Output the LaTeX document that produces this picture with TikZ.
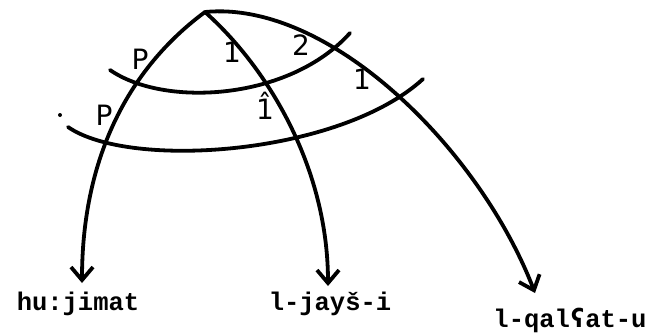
\documentclass[tikz,border=0pt]{standalone}
\usepackage{fontspec}
\setmonofont{Liberation Mono}
\newfontfamily\ipafont{DejaVu Sans Mono}
\newfontfamily\handfont{DejaVu Sans}
\usetikzlibrary{arrows.meta}
\tikzset{
  every picture/.style={line width=3.8pt, line cap=round},
  arrow/.style={-{Straight Barb[length=13pt, width=22pt]}},
  word/.style={font=\ttfamily\bfseries\fontsize{25.5}{30}\selectfont, inner sep=0pt, anchor=base},
  rel/.style={font=\handfont\fontsize{28}{32}\selectfont, inner sep=0pt},
}
\begin{document}
\begin{tikzpicture}[x=1pt, y=-1pt]
  \useasboundingbox (0,0) rectangle (658,335);
  % ---------- words ----------
  \node[word] (hu) at (78,310) {hu:jimat};
  \node[word] (jays) at (330,310) {l-jayš-i};
  \node[word] (qal) at (570,327) {l-qal{\ipafont\bfseries ʕ}at-u};
  % ---------- arcs ----------
  \coordinate (apex) at (205,12);
  \coordinate (tipP) at (82,283);
  \coordinate (tipS) at (328,286);
  \coordinate (tipO) at (535,293);
  \draw[arrow] (apex) .. controls (120,75) and (82,170) .. (tipP);
  \draw[arrow] (apex) .. controls (270,70) and (328,170) .. (tipS);
  \draw[arrow] (apex) .. controls (330,0) and (480,150) .. (tipO);
  % ---------- strata ----------
  \draw (110,70) .. controls (165,108) and (290,100) .. (350,33);
  \draw (68,127) .. controls (130,170) and (340,155) .. (423,79);
  % ---------- relation labels ----------
  \node[rel] (p1) at (140,59) {P};
  \node[rel] (p2) at (104,115) {P};
  \node[rel] (s1) at (232,52) {1};
  \node[rel] (o1) at (301,45) {2};
  \node[rel] (o2) at (362,79) {1};
  \node[rel] (s2) at (265,106) {\^{1}};
  \fill (60,115) circle (2pt);
\end{tikzpicture}
\end{document}
